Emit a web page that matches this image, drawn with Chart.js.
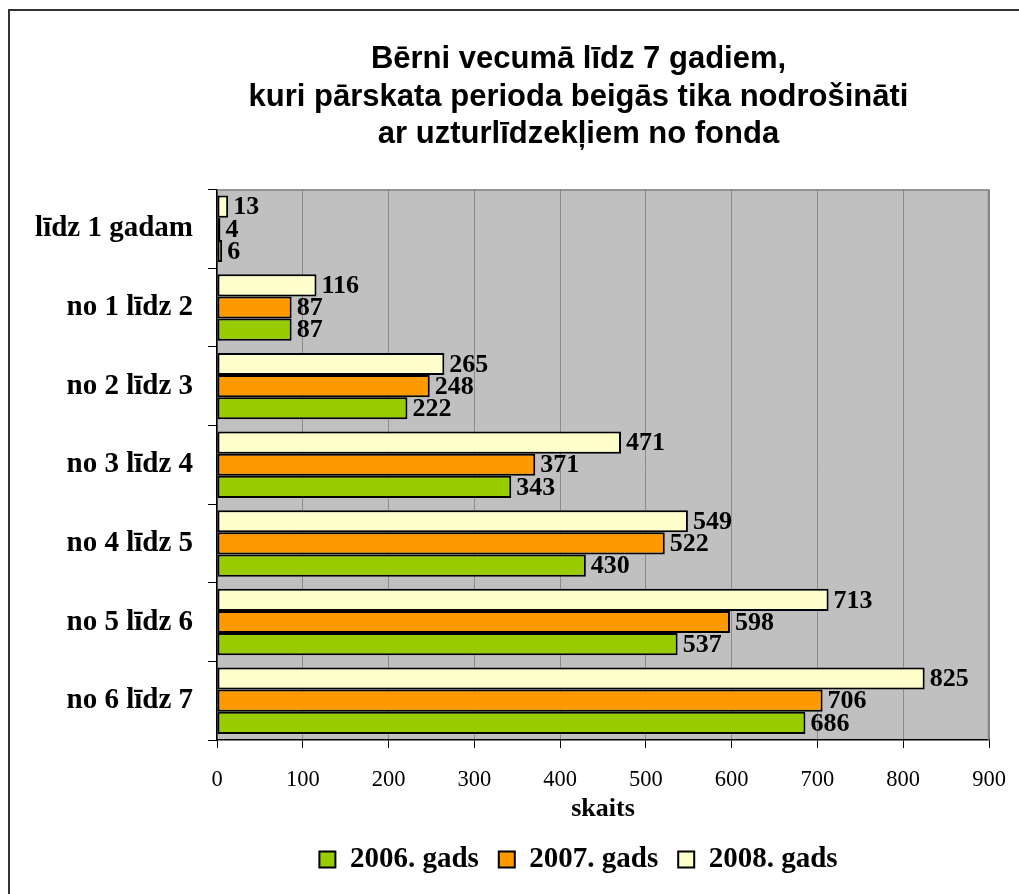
<!DOCTYPE html>
<html>
<head>
<meta charset="utf-8">
<script src="https://cdn.jsdelivr.net/npm/chart.js@4/dist/chart.umd.min.js"></script>
<style>
  html, body { margin: 0; padding: 0; background: #fff; }
  #wrap { width: 1019px; height: 894px; position: relative; }
</style>
</head>
<body>
<div id="wrap"><canvas id="c" width="1019" height="894"></canvas></div>
<script>
const categories = ["līdz 1 gadam", "no 1 līdz 2", "no 2 līdz 3", "no 3 līdz 4", "no 4 līdz 5", "no 5 līdz 6", "no 6 līdz 7"];
const seriesNames = ["2006. gads", "2007. gads", "2008. gads"];
const values2006 = [6, 87, 222, 343, 430, 537, 686];
const values2007 = [4, 87, 248, 371, 522, 598, 706];
const values2008 = [13, 116, 265, 471, 549, 713, 825];
const xTicks = [0, 100, 200, 300, 400, 500, 600, 700, 800, 900];
const titleLines = ["Bērni vecumā līdz 7 gadiem,", "kuri pārskata perioda beigās tika nodrošināti", "ar uzturlīdzekļiem no fonda"];
const axisTitle = "skaits";

const colors = { "2006. gads": "#99cc00", "2007. gads": "#ff9900", "2008. gads": "#ffffcc" };
const serif = "'Liberation Serif', 'Times New Roman', serif";
const sans = "'Liberation Sans', Arial, sans-serif";

// top-to-bottom order inside each group: 2008, 2007, 2006
const datasets = [
  { label: seriesNames[2], data: values2008 },
  { label: seriesNames[1], data: values2007 },
  { label: seriesNames[0], data: values2006 }
].map(d => ({
  ...d,
  backgroundColor: colors[d.label],
  borderColor: "#000",
  borderWidth: 2,
  borderSkipped: false,
  categoryPercentage: 0.845,
  barPercentage: 1.0
}));

const PAD_LEFT = 168;

const bgPlugin = {
  id: "bg",
  beforeDraw(chart) {
    const { ctx, chartArea: a, width, height } = chart;
    ctx.save();
    ctx.fillStyle = "#fff";
    ctx.fillRect(0, 0, width, height);
    ctx.strokeStyle = "#333";
    ctx.lineWidth = 2;
    ctx.strokeRect(9, 10, width + 10, height + 10);
    ctx.fillStyle = "#c0c0c0";
    ctx.fillRect(a.left, a.top, a.right - a.left, a.bottom - a.top);
    ctx.restore();
  },
  afterDatasetsDraw(chart) {
    const { ctx, chartArea: a } = chart;
    ctx.save();
    ctx.strokeStyle = "#808080";
    ctx.lineWidth = 1.5;
    ctx.beginPath();
    ctx.moveTo(a.left, a.top + 0.5);
    ctx.lineTo(a.right - 0.5, a.top + 0.5);
    ctx.lineTo(a.right - 0.5, a.bottom);
    ctx.stroke();
    ctx.restore();
  }
};

const labelPlugin = {
  id: "vals",
  afterDatasetsDraw(chart) {
    const { ctx } = chart;
    ctx.save();
    ctx.font = "bold 26px " + serif;
    ctx.fillStyle = "#000";
    ctx.textAlign = "left";
    ctx.textBaseline = "middle";
    chart.data.datasets.forEach((ds, i) => {
      const meta = chart.getDatasetMeta(i);
      meta.data.forEach((bar, j) => {
        ctx.fillText(String(ds.data[j]), bar.x + 5, bar.y + 1);
      });
    });
    ctx.restore();
  }
};

new Chart(document.getElementById("c"), {
  type: "bar",
  data: { labels: categories, datasets },
  options: {
    indexAxis: "y",
    responsive: false,
    animation: false,
    layout: { padding: { left: PAD_LEFT, right: 30, top: 10, bottom: 10 } },
    plugins: {
      title: {
        display: true,
        text: titleLines,
        color: "#000",
        font: { family: sans, size: 31, weight: "bold", lineHeight: 1.21 },
        padding: { top: 31, bottom: 36 }
      },
      legend: {
        position: "bottom",
        reverse: true,
        labels: {
          color: "#000",
          font: { family: serif, size: 29, weight: "bold" },
          boxWidth: 16,
          boxHeight: 16,
          padding: 20
        }
      },
      tooltip: { enabled: false }
    },
    scales: {
      x: {
        min: 0,
        max: 900,
        afterBuildTicks(scale) { scale.ticks = xTicks.map(v => ({ value: v })); },
        afterFit(scale) {
          scale.height = 85;
          scale.paddingLeft = 0;
          scale.paddingRight = 0;
        },
        ticks: {
          color: "#000",
          font: { family: serif, size: 22.5 },
          padding: 19
        },
        grid: {
          color: "#8c8c8c",
          lineWidth: 1,
          tickColor: "#000",
          tickLength: 8,
          drawOnChartArea: true
        },
        border: { color: "#000", width: 1.5 },
        title: {
          display: true,
          text: axisTitle,
          color: "#000",
          font: { family: serif, size: 26, weight: "bold" },
          padding: { top: 0, bottom: 0 }
        }
      },
      y: {
        afterFit(scale) {
          scale.width = 217 - PAD_LEFT;
          // let the category labels extend left of the narrow axis box
          scale._computeLabelArea = function () { return undefined; };
        },
        ticks: {
          color: "#000",
          font: { family: serif, size: 29, weight: "bold" },
          padding: 15
        },
        grid: {
          offset: true,
          drawOnChartArea: false,
          tickColor: "#000",
          tickLength: 9
        },
        border: { color: "#000", width: 1.5 }
      }
    }
  },
  plugins: [bgPlugin, labelPlugin]
});
</script>
</body>
</html>
